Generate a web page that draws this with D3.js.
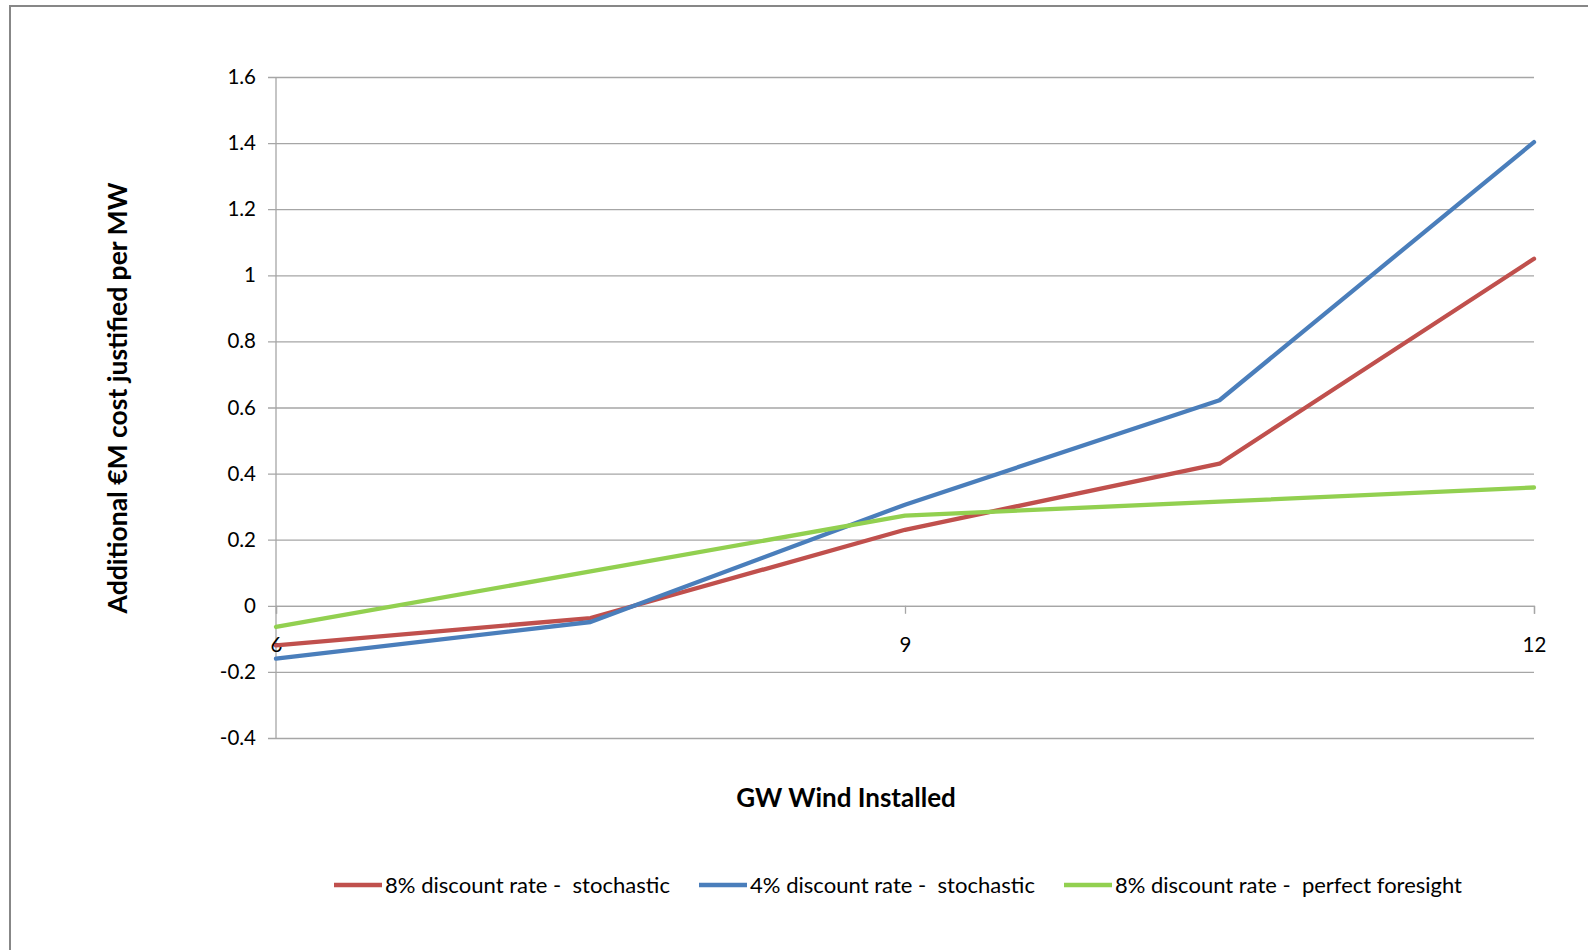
<!DOCTYPE html>
<html>
<head>
<meta charset="utf-8">
<script src="https://cdn.jsdelivr.net/npm/d3@7"></script>
<style>
  html, body { margin: 0; padding: 0; background: #fff; }
  svg { display: block; }
  text { font-family: Lato, "Open Sans", sans-serif; fill: #000; }
</style>
</head>
<body>
<svg id="chart" width="1588" height="950"></svg>
<script>
// GW of installed wind capacity
const gwInstalled = [6, 7.5, 9, 10.5, 12];

// Additional €M cost justified per MW, per scenario
const red8Stochastic   = [-0.12, -0.037, 0.23, 0.43, 1.05];
const blue4Stochastic  = [-0.16, -0.049, 0.306, 0.622, 1.403];
const green8Foresight  = [-0.064, 0.104, 0.273, 0.315, 0.358];

const seriesNames = [
  "8% discount rate -  stochastic",
  "4% discount rate -  stochastic",
  "8% discount rate -  perfect foresight"
];
const seriesColors = ["#C0504D", "#4A7EBB", "#92D050"];

const xTickValues = [6, 9, 12];
const yTickValues = [-0.4, -0.2, 0, 0.2, 0.4, 0.6, 0.8, 1, 1.2, 1.4, 1.6];

const series = [red8Stochastic, blue4Stochastic, green8Foresight].map((vals, i) => ({
  name: seriesNames[i],
  color: seriesColors[i],
  points: vals.map((v, j) => ({ x: gwInstalled[j], y: v }))
}));

const svg = d3.select("#chart");

// outer chart frame
svg.append("rect")
  .attr("x", 10).attr("y", 6)
  .attr("width", 1600).attr("height", 960)
  .attr("fill", "none")
  .attr("stroke", "#878787")
  .attr("stroke-width", 2);

const plot = { left: 276, right: 1534, top: 77, bottom: 738 };

const x = d3.scaleLinear().domain([6, 12]).range([plot.left, plot.right]);
const y = d3.scaleLinear().domain([-0.4, 1.6]).range([plot.bottom, plot.top]);

const gridColor = "#a6a6a6";
const fmtTick = d => String(+d.toFixed(1));   // plain hyphen for negatives

// horizontal gridlines with left ticks
const yAxis = d3.axisLeft(y)
  .tickValues(yTickValues)
  .tickSize(-(plot.right - plot.left))
  .tickPadding(20)
  .tickFormat(fmtTick);

const gy = svg.append("g")
  .attr("transform", `translate(${plot.left},0)`)
  .call(yAxis);
gy.select(".domain").remove();
gy.selectAll(".tick line")
  .attr("x1", -8)
  .attr("stroke", gridColor)
  .attr("stroke-width", 1.3);
gy.selectAll(".tick text")
  .attr("font-size", 20.5)
  .attr("font-family", "Lato, sans-serif")
  .attr("fill", "#222");

// vertical axis line
svg.append("line")
  .attr("x1", plot.left).attr("x2", plot.left)
  .attr("y1", plot.top).attr("y2", plot.bottom)
  .attr("stroke", gridColor)
  .attr("stroke-width", 1.3);

// horizontal axis crossing at zero
const xAxis = d3.axisBottom(x)
  .tickValues(xTickValues)
  .tickSize(8)
  .tickPadding(24)
  .tickFormat(d3.format("d"));

const gx = svg.append("g")
  .attr("transform", `translate(0,${y(0)})`)
  .call(xAxis);
gx.select(".domain")
  .attr("stroke", gridColor)
  .attr("stroke-width", 1.3);
gx.selectAll(".tick line")
  .attr("stroke", gridColor)
  .attr("stroke-width", 1.3);
gx.selectAll(".tick text")
  .attr("font-size", 20.5)
  .attr("font-family", "Lato, sans-serif")
  .attr("fill", "#222");

// series lines
const line = d3.line().x(d => x(d.x)).y(d => y(d.y));
svg.append("g").selectAll("path")
  .data(series)
  .join("path")
  .attr("d", d => line(d.points))
  .attr("fill", "none")
  .attr("stroke", d => d.color)
  .attr("stroke-width", 4.3)
  .attr("stroke-linejoin", "round")
  .attr("stroke-linecap", "round");

// axis titles
svg.append("text")
  .attr("transform", "translate(127,398) rotate(-90)")
  .attr("text-anchor", "middle")
  .attr("font-size", 26.5)
  .attr("font-weight", "bold")
  .text("Additional €M cost justified per MW");

svg.append("text")
  .attr("x", 846).attr("y", 807)
  .attr("text-anchor", "middle")
  .attr("font-size", 26)
  .attr("font-weight", "bold")
  .text("GW Wind Installed");

// legend
const legendX = [334, 699, 1064];
const legendTextWidth = [285, 285, 347];
const legend = svg.append("g").selectAll("g")
  .data(series)
  .join("g")
  .attr("transform", (d, i) => `translate(${legendX[i]},885)`);
legend.append("line")
  .attr("x1", 0).attr("x2", 48)
  .attr("y1", 0).attr("y2", 0)
  .attr("stroke", d => d.color)
  .attr("stroke-width", 4.3);
legend.append("text")
  .attr("x", 51).attr("y", 8)
  .attr("font-size", 22)
  .attr("fill", "#222")
  .style("white-space", "pre")
  .attr("textLength", (d, i) => legendTextWidth[i])
  .attr("lengthAdjust", "spacingAndGlyphs")
  .text(d => d.name);
</script>
</body>
</html>
